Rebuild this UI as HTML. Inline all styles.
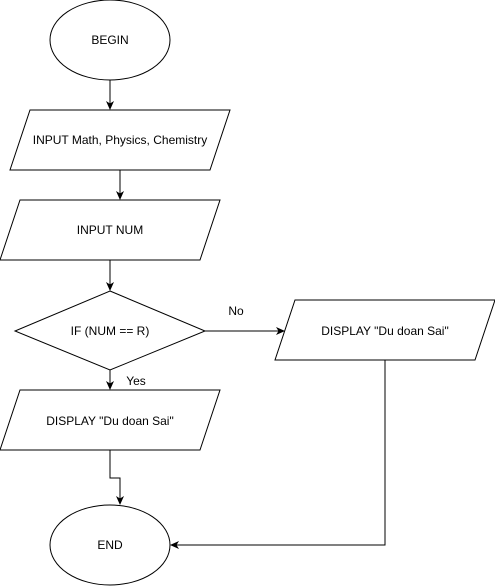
<!DOCTYPE html>
<html><head><style>body{margin:0;background:#fff}svg{display:block}text{font-family:"Liberation Sans",sans-serif;font-size:12px;fill:#000}</style></head><body>
<svg width="495" height="586" xmlns="http://www.w3.org/2000/svg">
<defs><marker id="a" markerWidth="10" markerHeight="10" refX="8" refY="5" orient="auto" markerUnits="userSpaceOnUse"><path d="M0,1 L9,5 L0,9 L2.5,5 Z" fill="#000"/></marker></defs>
<g fill="#fff" stroke="#000" stroke-width="1">
<ellipse cx="110" cy="40" rx="60" ry="40"/>
<polygon points="30,110 230,110 210,170 10,170"/>
<polygon points="20,200 220,200 200,260 0,260"/>
<polygon points="110,291 205,331 110,370 15,331"/>
<polygon points="295,300 495,300 475,360 275,360"/>
<polygon points="20,390 220,390 200,450 0,450"/>
<ellipse cx="110" cy="545" rx="60" ry="40"/>
</g>
<g fill="none" stroke="#000" stroke-width="1">
<path d="M110,80 V109" marker-end="url(#a)"/>
<path d="M120,170 V199" marker-end="url(#a)"/>
<path d="M110,260 V290" marker-end="url(#a)"/>
<path d="M205,331 H284" marker-end="url(#a)"/>
<path d="M110,370 V389" marker-end="url(#a)"/>
<path d="M110,450 V478 H120 V504" marker-end="url(#a)"/>
<path d="M385,360 V545 H171" marker-end="url(#a)"/>
</g>
<g text-anchor="middle">
<text x="110" y="44">BEGIN</text>
<text x="120" y="144">INPUT Math, Physics, Chemistry</text>
<text x="110" y="234">INPUT NUM</text>
<text x="110" y="335">IF (NUM == R)</text>
<text x="385" y="335">DISPLAY "Du doan Sai"</text>
<text x="110" y="425">DISPLAY "Du doan Sai"</text>
<text x="110" y="549">END</text>
<text x="236" y="315">No</text>
<text x="136" y="385">Yes</text>
</g>
</svg>
</body></html>
